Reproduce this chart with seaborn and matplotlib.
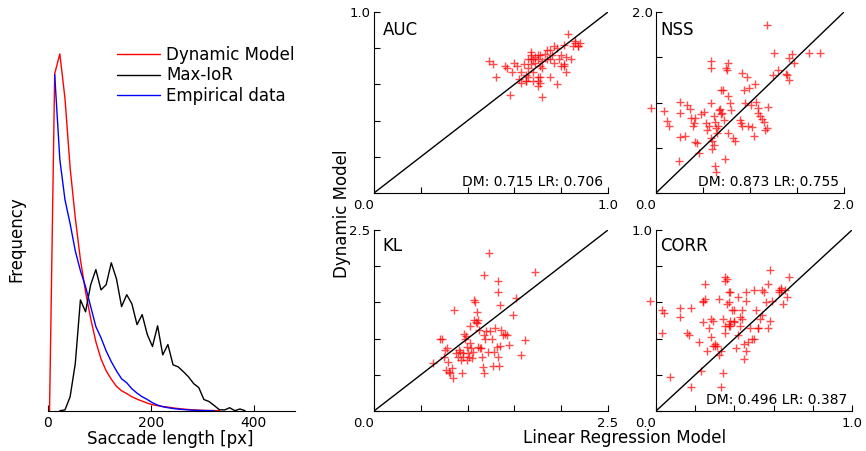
import matplotlib
matplotlib.use("Agg")
import matplotlib.pyplot as plt
import seaborn as sns
import numpy as np

# ---------------- data: saccade length histograms ----------------
bins_model = [3, 13, 23, 33, 43, 53, 63, 73, 83, 93, 103, 113, 123, 133, 143, 153, 163,
              173, 183, 193, 203, 213, 223, 233, 243, 253, 263, 273, 283, 293, 303, 313, 323, 333]
freq_model = [0, 84.5, 89.5, 78.3, 60.9, 48.4, 37.9, 29.8, 23.1, 17.3, 13.0, 10.0, 7.9, 6.1,
              5.0, 4.3, 3.5, 2.9, 2.4, 1.9, 1.5, 1.25, 1.05, 0.9, 0.7, 0.55, 0.4, 0.3, 0.2,
              0.13, 0.08, 0.05, 0.03, 0]
bins_ior = [23, 33, 43, 53, 63, 73, 83, 93, 103, 113, 123, 133, 143, 153, 163, 173, 183, 193,
            203, 213, 223, 233, 243, 253, 263, 273, 283, 293, 303, 313, 323, 333, 343, 353,
            363, 373, 383]
freq_ior = [0, 0.2, 3.5, 11.8, 27.8, 24.8, 31.6, 35.4, 30.3, 31.6, 37.1, 33.1, 26.1, 29.1,
            26.8, 21.6, 24.1, 19.1, 16.1, 21.3, 14.0, 16.6, 11.5, 11.0, 9.8, 8.5, 6.8, 5.8,
            2.8, 2.3, 1.3, 0.25, 0.18, 0.75, 0, 0.43, 0]
bins_emp = [13, 23, 33, 43, 53, 63, 73, 83, 93, 103, 113, 123, 133, 143, 153, 163, 173, 183,
            193, 203, 213, 223, 233, 243, 253, 263, 273, 283, 293, 303, 313, 323]
freq_emp = [84.3, 63.0, 52.9, 46.9, 40.1, 35.1, 31.1, 26.1, 21.1, 18.3, 15.0, 12.3, 10.0,
            8.0, 7.0, 5.5, 4.4, 3.5, 2.8, 2.0, 1.4, 1.0, 0.75, 0.55, 0.4, 0.3, 0.2, 0.12,
            0.07, 0.04, 0.01, 0]
hist_labels = ["Dynamic Model", "Max-IoR", "Empirical data"]

# ---------------- data: per-image scores (x = Linear Regression, y = Dynamic Model) ----------------
auc_lr = [0.49, 0.51, 0.52, 0.56, 0.57, 0.59, 0.58, 0.60, 0.61, 0.62, 0.63, 0.64, 0.65, 0.65,
          0.66, 0.67, 0.67, 0.67, 0.68, 0.69, 0.69, 0.70, 0.70, 0.70, 0.71, 0.71, 0.72, 0.72,
          0.73, 0.74, 0.74, 0.75, 0.75, 0.76, 0.77, 0.78, 0.78, 0.79, 0.80, 0.81, 0.81, 0.82,
          0.82, 0.83, 0.84, 0.85, 0.86, 0.86, 0.87, 0.88, 0.87, 0.66, 0.65, 0.68, 0.70, 0.63,
          0.71, 0.68, 0.70, 0.66, 0.67, 0.71, 0.72, 0.75, 0.77, 0.80, 0.81]
auc_dm = [0.73, 0.71, 0.64, 0.70, 0.69, 0.67, 0.54, 0.72, 0.70, 0.63, 0.67, 0.71, 0.65, 0.62,
          0.69, 0.78, 0.74, 0.71, 0.67, 0.75, 0.72, 0.74, 0.64, 0.59, 0.70, 0.64, 0.53, 0.69,
          0.77, 0.79, 0.74, 0.64, 0.79, 0.76, 0.72, 0.60, 0.80, 0.74, 0.76, 0.82, 0.71, 0.67,
          0.75, 0.88, 0.74, 0.81, 0.83, 0.84, 0.81, 0.83, 0.81, 0.64, 0.62, 0.62, 0.62, 0.61,
          0.61, 0.74, 0.76, 0.74, 0.76, 0.76, 0.73, 0.74, 0.81, 0.70, 0.70]

nss_lr = [-0.05, 0.09, 0.12, 0.14, 0.25, 0.25, 0.25, 0.31, 0.33, 0.36, 0.37, 0.40, 0.42,
          0.39, 0.41, 0.44, 0.46, 0.48, 0.51, 0.53, 0.54, 0.56, 0.58, 0.59, 0.58, 0.58, 0.60,
          0.62, 0.60, 0.62, 0.63, 0.64, 0.66, 0.65, 0.67, 0.68, 0.69, 0.71, 0.69, 0.70, 0.72,
          0.73, 0.74, 0.75, 0.77, 0.77, 0.77, 0.79, 0.80, 0.82, 0.84, 0.89, 0.90, 0.91, 0.92,
          0.94, 0.95, 0.97, 0.98, 0.99, 1.01, 1.02, 1.04, 1.05, 1.06, 1.08, 1.08, 1.11, 1.13,
          1.15, 1.16, 1.18, 1.19, 1.18, 1.24, 1.25, 1.30, 1.38, 1.39, 1.41, 1.42, 1.45, 1.47,
          1.63, 1.74, 0.63, 0.64, 0.24]
nss_dm = [0.94, 0.91, 0.80, 0.74, 1.01, 0.88, 0.62, 0.63, 0.97, 0.93, 0.83, 0.77, 0.83,
          0.74, 0.56, 0.55, 0.44, 0.87, 0.89, 0.77, 0.70, 0.74, 0.99, 1.46, 1.38, 0.61, 0.57,
          0.53, 0.49, 0.85, 0.78, 0.72, 0.74, 0.66, 0.92, 0.93, 1.14, 1.14, 0.87, 0.88, 0.81,
          0.38, 1.38, 1.36, 1.44, 0.66, 1.07, 0.99, 0.92, 0.61, 0.58, 0.81, 0.77, 1.33, 0.74,
          1.14, 0.99, 1.28, 0.74, 1.16, 0.97, 0.73, 0.63, 1.20, 1.01, 0.94, 0.88, 0.85, 0.82,
          0.78, 0.70, 1.86, 0.95, 0.72, 1.30, 1.55, 1.36, 1.32, 1.30, 1.49, 1.25, 1.54, 1.44,
          1.55, 1.55, 0.30, 0.23, 0.35]

kl_lr = [0.63, 0.70, 0.73, 0.76, 0.78, 0.75, 0.77, 0.79, 0.80, 0.81, 0.84, 0.86, 0.83, 0.88,
         0.90, 0.91, 0.93, 0.94, 0.95, 0.95, 0.96, 0.97, 0.98, 0.99, 1.00, 1.02, 1.03, 1.04,
         1.05, 1.06, 1.07, 1.08, 1.07, 1.09, 1.10, 1.10, 1.11, 1.12, 1.11, 1.13, 1.15, 1.16,
         1.17, 1.18, 1.19, 1.20, 1.22, 1.23, 1.24, 1.26, 1.27, 1.28, 1.29, 1.31, 1.32, 1.33,
         1.33, 1.34, 1.35, 1.35, 1.36, 1.38, 1.40, 1.42, 1.44, 1.48, 1.52, 1.57, 1.61, 1.72,
         1.17, 1.03, 0.92, 0.99, 1.14]
kl_dm = [0.66, 1.00, 1.00, 0.84, 0.87, 0.75, 0.57, 0.68, 0.54, 0.52, 0.45, 1.40, 0.59, 0.80,
         0.75, 0.84, 0.70, 0.52, 0.74, 0.80, 1.07, 1.00, 1.03, 0.89, 0.80, 0.75, 0.94, 0.87,
         0.73, 0.82, 1.53, 1.50, 1.26, 1.23, 1.37, 1.21, 1.26, 1.12, 0.89, 0.87, 0.75, 0.61,
         0.52, 1.05, 1.00, 1.10, 0.82, 2.18, 1.10, 1.00, 0.62, 0.82, 1.14, 0.89, 0.75, 1.79,
         1.65, 0.62, 0.90, 1.46, 1.12, 1.05, 1.07, 1.05, 0.91, 1.33, 1.56, 0.78, 0.98, 1.92,
         1.88, 1.17, 0.82, 0.70, 0.87]

corr_lr = [-0.03, 0.03, 0.03, 0.04, 0.07, 0.12, 0.12, 0.16, 0.17, 0.18, 0.18, 0.22, 0.23,
           0.24, 0.24, 0.24, 0.25, 0.25, 0.27, 0.28, 0.28, 0.29, 0.30, 0.30, 0.31, 0.32, 0.32,
           0.33, 0.34, 0.34, 0.35, 0.35, 0.35, 0.36, 0.36, 0.37, 0.37, 0.37, 0.37, 0.38, 0.38,
           0.39, 0.40, 0.40, 0.41, 0.42, 0.42, 0.43, 0.44, 0.44, 0.45, 0.45, 0.46, 0.46, 0.46,
           0.47, 0.49, 0.50, 0.50, 0.51, 0.52, 0.52, 0.53, 0.54, 0.54, 0.55, 0.56, 0.57, 0.57,
           0.58, 0.58, 0.59, 0.63, 0.63, 0.64, 0.65, 0.67, 0.68, 0.64, 0.66, 0.26, 0.29, 0.35,
           0.38, 0.40, 0.43, 0.48, 0.33]
corr_dm = [0.61, 0.43, 0.56, 0.54, 0.19, 0.52, 0.57, 0.43, 0.42, 0.57, 0.13, 0.38, 0.22,
           0.49, 0.60, 0.61, 0.62, 0.70, 0.46, 0.51, 0.41, 0.50, 0.37, 0.36, 0.36, 0.31, 0.62,
           0.13, 0.51, 0.21, 0.47, 0.43, 0.74, 0.59, 0.73, 0.48, 0.66, 0.60, 0.47, 0.66, 0.47,
           0.56, 0.56, 0.50, 0.35, 0.63, 0.42, 0.47, 0.51, 0.56, 0.29, 0.37, 0.33, 0.61, 0.66,
           0.38, 0.40, 0.67, 0.40, 0.56, 0.46, 0.46, 0.51, 0.53, 0.67, 0.66, 0.60, 0.46, 0.70,
           0.78, 0.50, 0.61, 0.67, 0.66, 0.67, 0.59, 0.63, 0.74, 0.68, 0.67, 0.33, 0.36, 0.72,
           0.50, 0.49, 0.52, 0.46, 0.33]

panel_names = ["AUC", "NSS", "KL", "CORR"]
panel_max = [1.0, 2.0, 2.5, 1.0]
panel_step = [0.2, 0.5, 0.5, 0.2]
panel_tick_labels = [("0.0", "1.0"), ("0.0", "2.0"), ("0.0", "2.5"), ("0.0", "1.0")]
panel_means = ["DM: 0.715 LR: 0.706", "DM: 0.873 LR: 0.755", None, "DM: 0.496 LR: 0.387"]
panel_x = [auc_lr, nss_lr, kl_lr, corr_lr]
panel_y = [auc_dm, nss_dm, kl_dm, corr_dm]

# ---------------- figure ----------------
sns.set_style("ticks", {"xtick.direction": "in", "ytick.direction": "in",
                        "axes.edgecolor": "black", "text.color": "black",
                        "axes.labelcolor": "black", "xtick.color": "black",
                        "ytick.color": "black"})
plt.rcParams["font.family"] = ["DejaVu Sans"]
plt.rcParams["text.color"] = "black"

W, H = 866, 451
fig = plt.figure(figsize=(W / 100, H / 100), dpi=100)


def px_axes(x0, x1, ytop, ybot):
    return fig.add_axes([x0 / W, (H - ybot) / H, (x1 - x0) / W, (ybot - ytop) / H])


# left: histogram lines
axh = px_axes(48, 295, 12, 410.7)
sns.lineplot(x=bins_model, y=freq_model, color="#ff0000", lw=1.0, ax=axh,
             label=hist_labels[0], sort=False, estimator=None)
sns.lineplot(x=bins_ior, y=freq_ior, color="black", lw=1.0, ax=axh,
             label=hist_labels[1], sort=False, estimator=None)
sns.lineplot(x=bins_emp, y=freq_emp, color="#0000ff", lw=1.0, ax=axh,
             label=hist_labels[2], sort=False, estimator=None)
axh.set_xlim(0, 480)
axh.set_ylim(0, 100)
axh.set_xticks([0, 200, 400])
axh.set_yticks([])
axh.tick_params(axis="x", direction="in", length=4, width=0.8, labelsize=10, pad=4,
                colors="black")
for s in ["left", "top", "right"]:
    axh.spines[s].set_visible(False)
axh.spines["bottom"].set_linewidth(0.8)
axh.set_xlabel("")
axh.set_ylabel("")
leg = axh.legend(loc="upper left", bbox_to_anchor=(117 / W, 1 - 46 / H),
                 bbox_transform=fig.transFigure, frameon=False, fontsize=12,
                 handlelength=2.6, handletextpad=0.36, labelspacing=0.15,
                 borderpad=0, borderaxespad=0)
for t in leg.get_texts():
    t.set_color("black")
fig.text(16 / W, 1 - 239 / H, "Frequency", rotation=90, ha="center", va="center",
         fontsize=12, color="black")
fig.text(170 / W, 1 - 439 / H, "Saccade length [px]", ha="center", va="center",
         fontsize=12, color="black")

# scatter panels
boxes = [(374, 608, 12, 193), (656, 844, 12, 193), (374, 608, 230, 411), (656, 852, 230, 411)]
title_off = [(9, -23), (4, -23), (8, -21), (4, -21)]
for i in range(4):
    x0, x1, yt, yb = boxes[i]
    ax = px_axes(x0, x1, yt, yb)
    m = panel_max[i]
    ax.plot([0, m], [0, m], color="black", lw=1.0)
    sns.scatterplot(x=panel_x[i], y=panel_y[i], marker="+", color="#ff0000", s=36,
                    linewidth=1.0, alpha=0.7, ax=ax, clip_on=False, legend=False)
    ax.set_xlim(0, m)
    ax.set_ylim(0, m)
    minor = np.arange(panel_step[i], m - 1e-6, panel_step[i])
    ax.set_xticks([0, m])
    ax.set_yticks([0, m])
    ax.set_xticks(minor, minor=True)
    ax.set_yticks(minor, minor=True)
    lo, hi = panel_tick_labels[i]
    ax.set_xticklabels([lo, hi])
    ax.set_yticklabels(["", hi])
    ax.get_xticklabels()[0].set_horizontalalignment("right")
    ax.tick_params(which="both", direction="in", length=4, width=0.8, labelsize=9.5,
                   colors="black")
    ax.tick_params(axis="x", pad=4)
    ax.tick_params(axis="y", pad=2.5)
    for s in ["top", "right"]:
        ax.spines[s].set_visible(False)
    for s in ["left", "bottom"]:
        ax.spines[s].set_linewidth(0.8)
    ax.annotate(panel_names[i], xy=(0, 1), xycoords="axes fraction",
                xytext=title_off[i], textcoords="offset pixels",
                ha="left", va="baseline", fontsize=12, color="black")
    if panel_means[i]:
        ax.annotate(panel_means[i], xy=(1, 0), xycoords="axes fraction",
                    xytext=(-5, 7), textcoords="offset pixels",
                    ha="right", va="baseline", fontsize=10, color="black")

fig.text(342 / W, 1 - 214 / H, "Dynamic Model", rotation=90, ha="center", va="center",
         fontsize=12, color="black")
fig.text(625 / W, 1 - 438 / H, "Linear Regression Model", ha="center", va="center",
         fontsize=12, color="black")

fig.savefig("out.png", dpi=100)
